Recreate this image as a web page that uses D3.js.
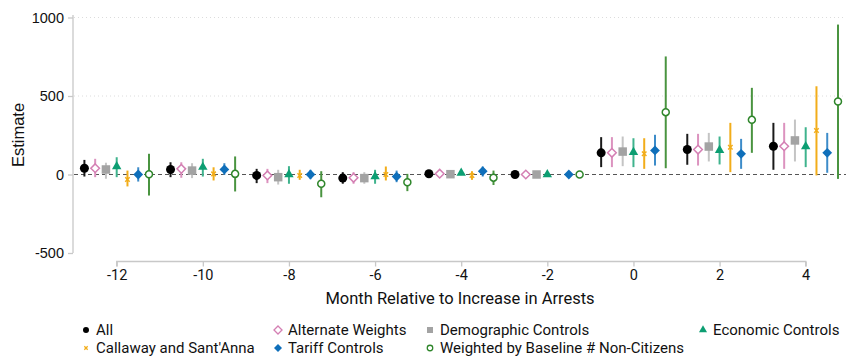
<!DOCTYPE html>
<html>
<head>
<meta charset="utf-8">
<script src="https://cdn.jsdelivr.net/npm/d3@7"></script>
<style>
  html, body { margin: 0; padding: 0; background: #fff; }
  svg { display: block; }
</style>
</head>
<body>
<svg id="chart" width="846" height="360"></svg>
<script>
// Event-study estimates by month relative to the increase in arrests
const months = [-12, -10, -8, -6, -4, -2, 0, 2, 4];

const seriesNames = [
  "All", "Alternate Weights", "Demographic Controls", "Economic Controls",
  "Callaway and Sant'Anna", "Tariff Controls", "Weighted by Baseline # Non-Citizens"
];

// point estimates (null = not estimated)
const estAll      = [40, 32, -6, -23, 5, 0, 138, 159, 180];
const estAltW     = [40, 36, -6, -21, 5, 0, 138, 159, 180];
const estDemo     = [32, 25, -17, -23, 2, 0, 146, 178, 217];
const estEcon     = [51, 47, 0, -13, 10, 0, 142, 155, 178];
const estCallaway = [-32, 4, -6, 0, -6, null, 132, 174, 280];
const estTariff   = [0, 32, 0, -13, 21, 0, 153, 132, 138];
const estWeighted = [2, 4, -59, -49, -20, 0, 397, 348, 465];

// lower bounds of the confidence intervals
const loAll      = [-13, -17, -55, -59, -12, null, 47, 62, 30];
const loAltW     = [-17, -21, -55, -59, -16, null, 47, 57, 36];
const loDemo     = [-27, -23, -64, -59, -10, null, 53, 83, 83];
const loEcon     = [-17, -13, -59, -59, -4, null, 47, 64, 47];
const loCallaway = [-76, -38, -34, -38, -34, null, 36, 15, -6];
const loTariff   = [-45, -2, -30, -49, -13, null, 57, 36, 11];
const loWeighted = [-134, -108, -145, -106, -67, null, 40, 138, -28];

// upper bounds of the confidence intervals
const hiAll      = [93, 78, 36, 15, 22, null, 238, 259, 329];
const hiAltW     = [100, 78, 36, 15, 28, null, 238, 259, 329];
const hiDemo     = [75, 72, 30, 15, 14, null, 242, 265, 350];
const hiEcon     = [110, 100, 53, 30, 24, null, 231, 242, 301];
const hiCallaway = [25, 46, 30, 51, 21, null, 231, 329, 562];
const hiTariff   = [46, 72, 30, 25, 51, null, 253, 227, 265];
const hiWeighted = [132, 115, 21, 4, 25, null, 752, 552, 955];

const yTicks = [-500, 0, 500, 1000];
const xTicks = [-12, -10, -8, -6, -4, -2, 0, 2, 4];

const estimates = [estAll, estAltW, estDemo, estEcon, estCallaway, estTariff, estWeighted];
const lowers    = [loAll, loAltW, loDemo, loEcon, loCallaway, loTariff, loWeighted];
const uppers    = [hiAll, hiAltW, hiDemo, hiEcon, hiCallaway, hiTariff, hiWeighted];

// visual style per series
const styles = [
  { color: "#000000", ci: "#1a1a1a", shape: "circle",  fill: true  },
  { color: "#d47fb3", ci: "#dc93bf", shape: "diamond", fill: false },
  { color: "#a3a3a3", ci: "#c4c4c4", shape: "square",  fill: true  },
  { color: "#0c9e72", ci: "#3fb38d", shape: "triangle",fill: true  },
  { color: "#f2ad1a", ci: "#f2ad1a", shape: "x",       fill: false },
  { color: "#0f6fba", ci: "#3d8cc9", shape: "diamond", fill: true  },
  { color: "#2f862b", ci: "#4a9440", shape: "circle",  fill: false }
];

const svg = d3.select("#chart");
const W = 846, H = 360;

const x = d3.scaleLinear().domain([-12, 4]).range([116.7, 805.7]);
const y = d3.scaleLinear().domain([-500, 1000]).range([253, 17.5]);
const offset = 0.25; // month spacing between series within a group

const axisColor = "#c8c8c8";
const plotLeft = 74, plotRight = W;
const fmt = d => String(d);

// gridlines
svg.append("g").selectAll("line")
  .data([500, 1000])
  .join("line")
  .attr("x1", plotLeft).attr("x2", plotRight)
  .attr("y1", d => y(d)).attr("y2", d => y(d))
  .attr("stroke", "#dcdcdc").attr("stroke-width", 1)
  .attr("stroke-dasharray", "1,3");

// zero reference line
svg.append("line")
  .attr("x1", plotLeft).attr("x2", plotRight)
  .attr("y1", y(0)).attr("y2", y(0))
  .attr("stroke", "#555").attr("stroke-width", 1)
  .attr("stroke-dasharray", "4,3");

// y axis
const yAxis = svg.append("g")
  .attr("transform", "translate(73,0)")
  .call(d3.axisLeft(y).tickValues(yTicks).tickSize(5).tickPadding(4).tickFormat(fmt));
yAxis.select(".domain").attr("d", `M0,${y(-500)}V${y(1000) - 2.5}`).attr("stroke", axisColor).attr("stroke-width", 1.3);
yAxis.selectAll(".tick line").attr("stroke", axisColor).attr("stroke-width", 1.3);
yAxis.selectAll(".tick text")
  .attr("font-family", "'Liberation Sans', Arial, sans-serif")
  .attr("font-size", 14.5).attr("fill", "#111");

// x axis
const xAxis = svg.append("g")
  .attr("transform", "translate(0,261.5)")
  .call(d3.axisBottom(x).tickValues(xTicks).tickSize(5).tickPadding(3).tickFormat(fmt));
xAxis.select(".domain").attr("d", `M${x(-12)},5V0H${x(4)}V5`).attr("stroke", axisColor).attr("stroke-width", 1.3);
xAxis.selectAll(".tick line").attr("stroke", axisColor).attr("stroke-width", 1.3);
xAxis.selectAll(".tick text")
  .attr("font-family", "Roboto, sans-serif")
  .attr("font-size", 14.5).attr("fill", "#111");

// axis titles
svg.append("text")
  .attr("x", 460).attr("y", 304)
  .attr("text-anchor", "middle")
  .attr("font-family", "Roboto, sans-serif").attr("font-size", 16.5).attr("fill", "#111")
  .text("Month Relative to Increase in Arrests");

svg.append("text")
  .attr("transform", `translate(24,135) rotate(-90)`)
  .attr("text-anchor", "middle")
  .attr("font-family", "'Liberation Sans', Arial, sans-serif").attr("font-size", 16.5).attr("fill", "#111")
  .text("Estimate");

// marker path generator
function markerPath(shape, size) {
  switch (shape) {
    case "circle":   return d3.symbol(d3.symbolCircle, size * size * 0.785)();
    case "square":   return d3.symbol(d3.symbolSquare, size * size)();
    case "triangle": return d3.symbol(d3.symbolTriangle, size * size * 0.5)();
    case "diamond": {
      const h = size / 2 * 1.15;
      return `M0,${-h}L${h},0L0,${h}L${-h},0Z`;
    }
    case "x": return d3.symbol(d3.symbolX, size * size * 0.35)();
  }
}

function drawMarker(g, st, size, stroke) {
  const p = g.append("path").attr("d", markerPath(st.shape, size));
  if (st.shape === "x") {
    p.attr("fill", "none").attr("stroke", st.color).attr("stroke-width", stroke);
  } else if (st.fill) {
    p.attr("fill", st.color).attr("stroke", "none");
  } else {
    p.attr("fill", "#fff").attr("stroke", st.color).attr("stroke-width", stroke);
  }
  return p;
}

// confidence intervals and estimates
const markerSize = [9, 7.5, 8.5, 8.8, 6.5, 8.5, 7];
seriesNames.forEach((name, s) => {
  const st = styles[s];
  const g = svg.append("g").attr("class", "series");
  const pts = months.map((m, i) => ({
    m, xv: m + (s - 3) * offset, est: estimates[s][i], lo: lowers[s][i], hi: uppers[s][i]
  }));
  g.selectAll("line.ci")
    .data(pts.filter(d => d.lo !== null && d.hi !== null))
    .join("line").attr("class", "ci")
    .attr("x1", d => x(d.xv)).attr("x2", d => x(d.xv))
    .attr("y1", d => y(d.lo)).attr("y2", d => y(d.hi))
    .attr("stroke", st.ci).attr("stroke-width", 2);
  pts.filter(d => d.est !== null).forEach(d => {
    const mg = g.append("g").attr("transform", `translate(${x(d.xv)},${y(d.est)})`);
    drawMarker(mg, st, markerSize[s], 1.5);
  });
});

// legend
const legendPos = [
  [86, 335], [278, 335], [430, 335], [703, 335],
  [86, 353], [278, 353], [430, 353]
];
const legendSize = [6, 7, 6, 7.5, 5, 7, 5.5];
seriesNames.forEach((name, s) => {
  const [lx, ly] = legendPos[s];
  const g = svg.append("g").attr("transform", `translate(${lx},${ly - 5})`);
  drawMarker(g, styles[s], legendSize[s], 1.3);
  svg.append("text")
    .attr("x", lx + 10).attr("y", ly)
    .attr("font-family", "Roboto, sans-serif").attr("font-size", 15).attr("fill", "#111")
    .text(name);
});
</script>
</body>
</html>
